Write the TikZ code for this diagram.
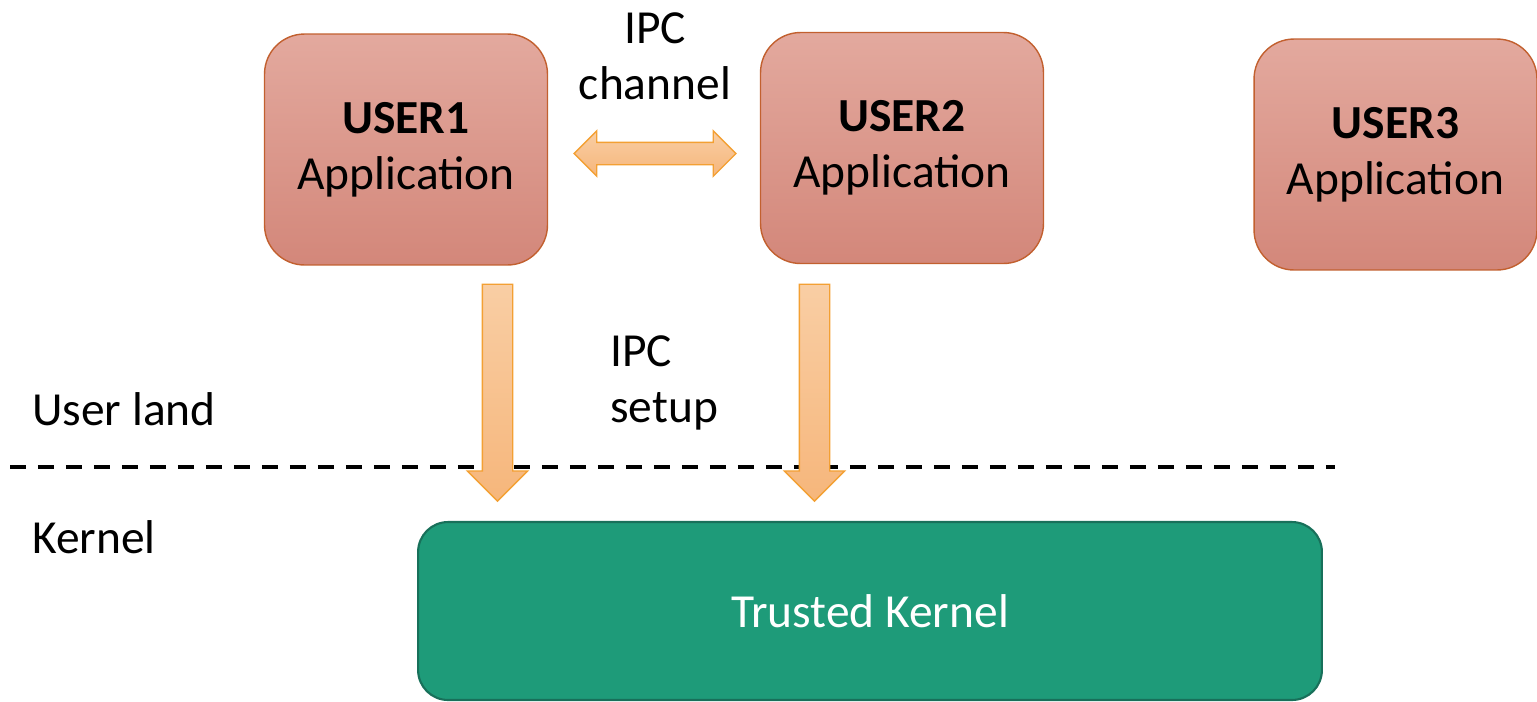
\documentclass[tikz,border=0pt]{standalone}
\usepackage{fontspec}
\setmainfont{Carlito}
\usetikzlibrary{shapes.arrows}

\definecolor{appTop}{HTML}{E3A99E}
\definecolor{appBottom}{HTML}{D3877A}
\definecolor{appEdge}{HTML}{C2602F}
\definecolor{pipeTop}{HTML}{F9CEA4}
\definecolor{pipeBottom}{HTML}{F6B67B}
\definecolor{pipeEdge}{HTML}{F3A033}
\definecolor{kernFill}{HTML}{1E9B79}
\definecolor{kernEdge}{HTML}{18705A}

\tikzset{
  big/.style={font=\fontsize{27}{32}\selectfont},
  txt/.style={big, inner sep=0pt},
  appbox/.style={big, align=center, draw=appEdge, line width=0.8pt,
    top color=appTop, bottom color=appBottom, rounded corners=0.8cm,
    minimum width=5.66cm, minimum height=4.62cm},
  kernbox/.style={big, text=white, draw=kernEdge, line width=1.2pt, fill=kernFill,
    rounded corners=0.6cm, minimum width=18.08cm, minimum height=3.56cm},
  pipe/.style={draw=pipeEdge, line width=0.8pt, top color=pipeTop, bottom color=pipeBottom},
  downpipe/.style={pipe, single arrow, shape border rotate=270, inner sep=0.29cm,
    single arrow head extend=0.3cm, minimum width=1.18cm, minimum height=4.34cm},
  chanpipe/.style={pipe, double arrow, inner sep=0.21cm,
    double arrow head extend=0.23cm, minimum width=0.88cm, minimum height=3.24cm},
}

\begin{document}
\begin{tikzpicture}[x=0.02cm, y=-0.02cm]
  \useasboundingbox (0,0) rectangle (1537,701);

  % user / kernel divide
  \draw[line width=2.3pt, dash pattern=on 0.32cm off 0.24cm] (10,467) -- (1335,467);
  \node[txt, anchor=base west] (uland) at (32,425) {User land};
  \node[txt, anchor=base west] (kland) at (32,553) {Kernel};

  % applications
  \foreach \i/\x/\y in {1/406/149.5, 2/902/148, 3/1395.5/154.5}
    \node[appbox] (u\i) at (\x,\y) {\textbf{USER\i}\\Application};

  \node[kernbox] (kern) at (870,611) {Trusted Kernel};

  % ipc
  \node[chanpipe] (chan) at (655,153.5) {};
  \node[txt, align=center] (chanlbl) at (655,56.5) {IPC\\channel};

  \foreach \i/\x in {1/497.5, 2/814.5}
    \node[downpipe, anchor=tail] (set\i) at (\x,283.5) {};
  \node[txt, align=left, anchor=west] (setlbl) at (610,383) {IPC\\setup};
\end{tikzpicture}
\end{document}
